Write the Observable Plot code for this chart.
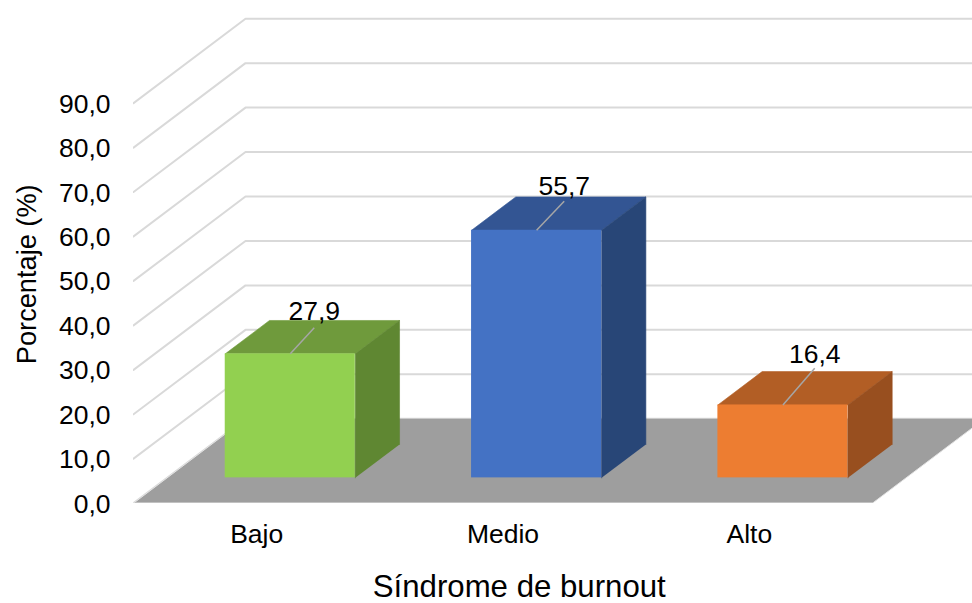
<!DOCTYPE html>
<html>
<head>
<meta charset="utf-8">
<script src="https://cdn.jsdelivr.net/npm/d3@7"></script>
<script src="https://cdn.jsdelivr.net/npm/@observablehq/plot@0.6"></script>
<style>
html,body{margin:0;padding:0;background:#fff;}
svg{display:block;}
</style>
</head>
<body>
<div id="chart"></div>
<script>
// Data
const categories = ["Bajo", "Medio", "Alto"];
const values = [27.9, 55.7, 16.4];
const gridTicks = [0, 10, 20, 30, 40, 50, 60, 70, 80, 90];
const frontColors = ["#92d050", "#4472c4", "#ed7d31"];
const topColors = ["#6f9a3c", "#335593", "#b25e25"];
const sideColors = ["#5f8732", "#284677", "#984f1f"];

// Oblique projection, in data units: depth d runs 0 (front) to 1 (back wall)
const depthX = 0.4547, depthY = 19;
const px = (x, d) => x + d * depthX;
const py = (v, d) => v + d * depthY;
const barHalf = 0.264, dFront = 0.30, dBack = 0.695;

// Leader and label offsets from each bar's top, in data units
const leaderRun = [0.0974, 0.112, 0.129];
const leaderRise = [5.85, 6.52, 8.26];
const labelRise = [9.49, 9.82, 11.45];

const xMax = 3.406, yMax = 113.09;
const fmt = v => v.toFixed(1).replace(".", ",");

const grid = gridTicks.flatMap(v => [
  {id: v, x: 0, y: py(v, 0)},
  {id: v, x: px(0, 1), y: py(v, 1)},
  {id: v, x: px(3, 1), y: py(v, 1)}
]);
const floor = [
  {x: px(0, 0), y: py(0, 0)},
  {x: px(0, 1), y: py(0, 1)},
  {x: px(3, 1), y: py(0, 1)},
  {x: px(3, 0), y: py(0, 0)}
];
const floorEdge = [floor[1], floor[0], floor[3], floor[2]];
const bars = categories.map((c, i) => ({
  c, v: values[i], cx: i + 0.5,
  l: i + 0.5 - barHalf, r: i + 0.5 + barHalf,
  front: frontColors[i], top: topColors[i], side: sideColors[i],
  run: leaderRun[i], rise: leaderRise[i], lab: labelRise[i]
}));
const faces = bars.flatMap((b, i) => [
  ...[[b.l, b.v, dFront], [b.l, b.v, dBack], [b.r, b.v, dBack], [b.r, b.v, dFront]]
    .map(([x, v, d]) => ({id: "t" + i, color: b.top, x: px(x, d), y: py(v, d)})),
  ...[[b.r, 0, dFront], [b.r, b.v, dFront], [b.r, b.v, dBack], [b.r, 0, dBack]]
    .map(([x, v, d]) => ({id: "s" + i, color: b.side, x: px(x, d), y: py(v, d)}))
]);
const font = "Liberation Sans, Arial, sans-serif";

const chart = Plot.plot({
  width: 972, height: 603,
  marginLeft: 133, marginRight: 0, marginTop: 0, marginBottom: 100.3,
  style: {fontFamily: font, background: "#fff", color: "#000", overflow: "visible"},
  x: {domain: [0, xMax]},
  y: {domain: [0, yMax]},
  color: {type: "identity"},
  marks: [
    Plot.line(grid, {x: "x", y: "y", z: "id", stroke: "#d9d9d9", strokeWidth: 2, curve: "linear", clip: true}),
    Plot.line(floor, {x: "x", y: "y", fill: "#9e9e9e", stroke: "none", clip: true}),
    Plot.line(floorEdge, {x: "x", y: "y", stroke: "#e4e4e4", strokeWidth: 1, clip: true}),
    Plot.line(faces, {x: "x", y: "y", z: "id", fill: "color", stroke: "color", strokeWidth: 0.6}),
    Plot.rect(bars, {
      x1: d => px(d.l, dFront), x2: d => px(d.r, dFront),
      y1: d => py(0, dFront), y2: d => py(d.v, dFront),
      fill: "front"
    }),
    Plot.link(bars, {
      x1: d => px(d.cx, dFront), y1: d => py(d.v, dFront),
      x2: d => px(d.cx, dFront) + d.run, y2: d => py(d.v, dFront) + d.rise,
      stroke: "#a6a6a6", strokeWidth: 1.5
    }),
    Plot.text(bars, {
      x: d => px(d.cx, dFront) + d.run, y: d => py(d.v, dFront) + d.lab,
      text: d => fmt(d.v), fontSize: 26.5, fill: "#000"
    }),
    Plot.axisY({ticks: gridTicks, tickSize: 0, tickPadding: 23, tickFormat: fmt, fontSize: 26.5, label: null, dy: 1, fill: "#000"}),
    Plot.axisX({ticks: [0.5, 1.5, 2.5], tickSize: 0, tickPadding: 20.5, tickFormat: d => categories[Math.floor(d)], fontSize: 26.5, label: null, fill: "#000"}),
    Plot.text(["Porcentaje (%)"], {x: -0.433, y: 51.5, rotate: -90, fontSize: 27.2, fill: "#000"}),
    Plot.text(["Síndrome de burnout"], {x: 1.566, y: -18.85, fontSize: 31.2, fill: "#000"})
  ]
});
document.getElementById("chart").appendChild(chart);
</script>
</body>
</html>
